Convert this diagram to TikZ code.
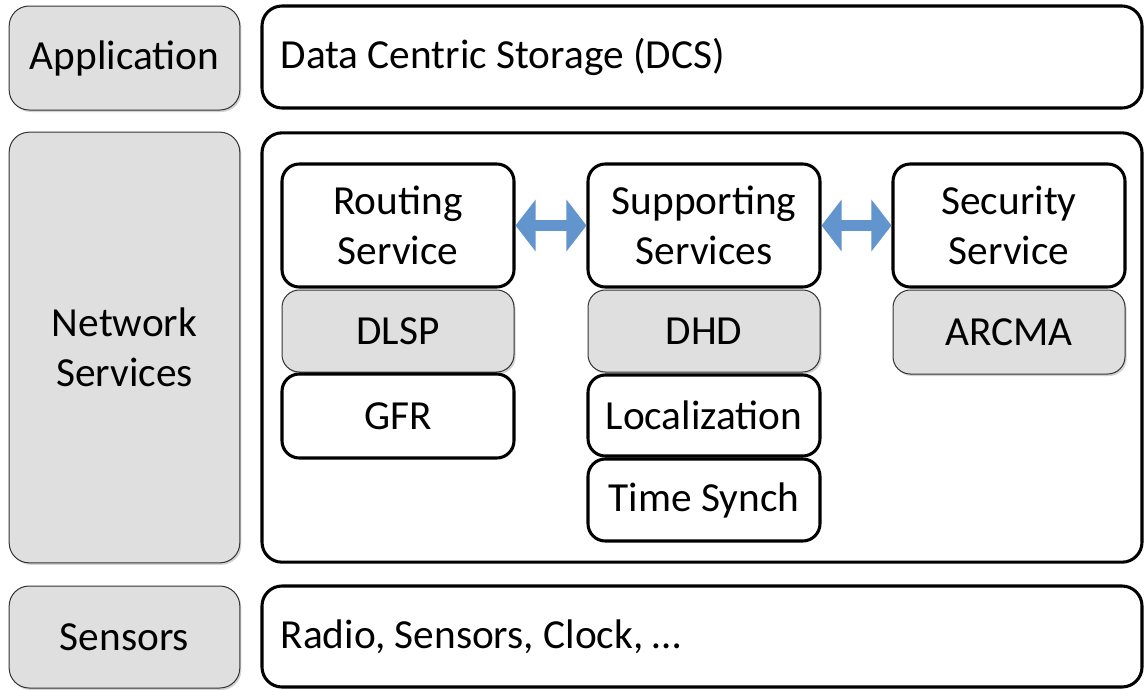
\documentclass[tikz,border=0pt]{standalone}
\usepackage{fontspec}
\setmainfont{Carlito}
\usetikzlibrary{arrows.meta}
\usetikzlibrary{shadows}
\definecolor{boxgray}{RGB}{223,223,223}
\definecolor{arrowblue}{RGB}{98,148,205}

\begin{document}
\begin{tikzpicture}[x=0.75pt,y=-0.75pt,
  font=\fontsize{31}{37.5}\selectfont\frenchspacing,
  graybox/.style={draw=black!80,line width=0.75pt,fill=boxgray,rounded corners=15pt,
    drop shadow={shadow xshift=1.2pt,shadow yshift=-1.5pt,opacity=.35},
    align=center,inner sep=0pt},
  whitebox/.style={draw=black,line width=2.3pt,fill=white,rounded corners=15pt,
    align=center,inner sep=0pt},
  dblarrow/.style={draw=arrowblue,line width=8.6pt,
    {Triangle[length=15pt,width=38pt]}-{Triangle[length=15pt,width=38pt]}}]
\useasboundingbox (0,0) rectangle (1144,689);

% left column
\node[graybox,minimum width=173pt,minimum height=78pt](app) at (124.5,58) {Application};
\node[graybox,minimum width=173pt,minimum height=323pt](net) at (124.5,347.5) {Network\\Services};
\node[graybox,minimum width=173pt,minimum height=76.5pt](sens) at (124.5,637) {Sensors};

% right column
\node[whitebox,minimum width=660pt,minimum height=76.5pt,text width=632pt,align=flush left](dcs) at (702,57) {Data Centric Storage (DCS)};
\node[whitebox,minimum width=660pt,minimum height=322pt](layer) at (702,347.5) {};
\node[whitebox,minimum width=660pt,minimum height=75.75pt,text width=632pt,align=flush left](radio) at (702,636.5) {Radio, Sensors, Clock, …};

% services
\node[whitebox,rounded corners=13pt,minimum width=174pt,minimum height=92.25pt](routing) at (398,225.5) {Routing\\Service};
\node[whitebox,rounded corners=13pt,minimum width=174pt,minimum height=92.25pt](supp) at (704,225.5) {Supporting\\Services};
\node[whitebox,rounded corners=13pt,minimum width=174pt,minimum height=92.25pt](sec) at (1009,225.5) {Security\\Service};

\node[graybox,rounded corners=13pt,minimum width=174pt,minimum height=61.5pt](dlsp) at (398,331) {DLSP};
\node[graybox,rounded corners=13pt,minimum width=174pt,minimum height=61.5pt](dhd) at (704,331) {DHD};
\node[graybox,rounded corners=13pt,minimum width=174pt,minimum height=63pt](arcma) at (1009,332) {ARCMA};

\node[whitebox,rounded corners=13pt,minimum width=174pt,minimum height=63pt](gfr) at (398,416) {GFR};
\node[whitebox,rounded corners=13pt,minimum width=174pt,minimum height=60.75pt](loc) at (704,415.5) {Localization};
\node[whitebox,rounded corners=13pt,minimum width=174pt,minimum height=61.5pt](sync) at (704,500) {Time Synch};

\draw[dblarrow] (routing) -- (supp);
\draw[dblarrow] (supp) -- (sec);
\end{tikzpicture}
\end{document}
